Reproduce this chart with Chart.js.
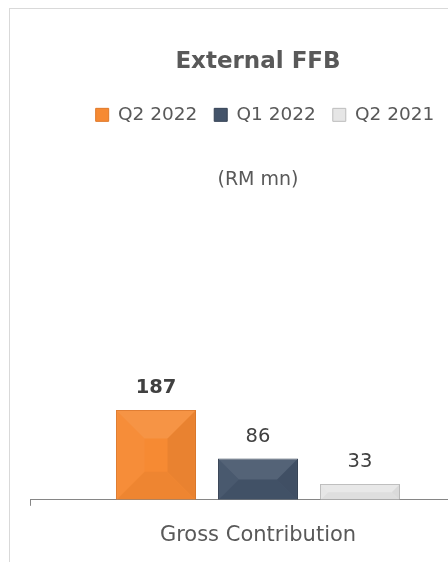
<!DOCTYPE html>
<html>
<head>
<meta charset="utf-8">
<script src="https://cdn.jsdelivr.net/npm/chart.js@4/dist/chart.umd.min.js"></script>
<style>
  html, body { margin: 0; padding: 0; background: #fff; overflow: hidden; }
  #wrap { position: relative; width: 448px; height: 562px; overflow: hidden; }
  #frame { position: absolute; left: 9px; top: 8px; width: 600px; height: 600px; border: 1px solid #d9d9d9; box-sizing: border-box; }
  #cv { position: absolute; left: 0; top: 0; }
</style>
</head>
<body>
<div id="wrap">
  <div id="frame"></div>
  <div style="position:absolute;left:0;top:0;width:500px;height:579px;">
    <canvas id="cv" width="500" height="579"></canvas>
  </div>
</div>
<script>
const categories = ['Gross Contribution'];
const seriesNames = ['Q2 2022', 'Q1 2022', 'Q2 2021'];
const q2_2022 = [187];
const q1_2022 = [86];
const q2_2021 = [33];
const titleText = 'External FFB';
const subtitleText = '(RM mn)';

const fills = ['#F68A33', '#44546A', '#E6E6E6'];
const borders = ['#E0792A', '#364355', '#BDBDBD'];

const valueLabels = {
  id: 'valueLabels',
  afterDatasetsDraw(chart) {
    const ctx = chart.ctx;
    ctx.save();
    chart.data.datasets.forEach((ds, i) => {
      const meta = chart.getDatasetMeta(i);
      meta.data.forEach((bar, j) => {
        const v = ds.data[j];
        ctx.font = (i === 0 ? 'bold ' : '') + '19.5px "DejaVu Sans"';
        ctx.fillStyle = '#404040';
        ctx.textAlign = 'center';
        ctx.textBaseline = 'middle';
        ctx.fillText(String(v), bar.x, bar.y - 22);
      });
    });
    ctx.restore();
  }
};

const bevel = {
  id: 'bevel',
  afterDatasetsDraw(chart) {
    const ctx = chart.ctx;
    ctx.save();
    chart.data.datasets.forEach((ds, i) => {
      const meta = chart.getDatasetMeta(i);
      meta.data.forEach((bar) => {
        const l = bar.x - bar.width / 2 + 0.5, r = bar.x + bar.width / 2 - 0.5;
        const t = bar.y + 0.5, b = bar.base;
        const d = Math.min(28, (b - t) / 2, bar.width / 2);
        const quad = (pts, col) => {
          ctx.fillStyle = col;
          ctx.beginPath(); ctx.moveTo(pts[0][0], pts[0][1]);
          for (let k = 1; k < pts.length; k++) ctx.lineTo(pts[k][0], pts[k][1]);
          ctx.closePath(); ctx.fill();
        };
        quad([[l, t], [r, t], [r - d, t + d], [l + d, t + d]], 'rgba(255,255,255,0.09)');
        quad([[l, t], [l + d, t + d], [l + d, b - d], [l, b]], 'rgba(255,255,255,0.03)');
        quad([[r, t], [r - d, t + d], [r - d, b - d], [r, b]], 'rgba(0,0,0,0.05)');
        quad([[l, b], [r, b], [r - d, b - d], [l + d, b - d]], 'rgba(0,0,0,0.03)');
      });
    });
    ctx.restore();
  }
};

const legendNudge = {
  id: 'legendNudge',
  afterLayout(chart) {
    if (chart.legend) { chart.legend.left += 7; chart.legend.right += 7; }
  }
};

const seriesData = [q2_2022, q1_2022, q2_2021];

new Chart(document.getElementById('cv'), {
  type: 'bar',
  data: {
    labels: categories,
    datasets: seriesNames.map((name, i) => ({
      label: name,
      data: seriesData[i],
      backgroundColor: fills[i],
      borderColor: borders[i],
      borderWidth: 1,
      barPercentage: 0.784,
      categoryPercentage: 0.671
    }))
  },
  options: {
    responsive: false,
    animation: false,
    devicePixelRatio: 1,
    layout: { padding: { left: 30, right: 14, top: 32, bottom: 14 } },
    plugins: {
      title: {
        display: true, text: titleText, color: '#595959',
        font: { family: '"DejaVu Sans"', size: 23, weight: 'bold' },
        padding: { top: 16, bottom: 13 }
      },
      legend: {
        display: true, position: 'top',
        labels: {
          color: '#595959', boxWidth: 13, boxHeight: 13, padding: 17,
          font: { family: '"DejaVu Sans"', size: 18.5 }
        }
      },
      subtitle: {
        display: true, text: subtitleText, color: '#595959', position: 'top', weight: 500,
        font: { family: '"DejaVu Sans"', size: 19 },
        padding: { top: 35, bottom: 24.6 }
      },
      tooltip: { enabled: false }
    },
    scales: {
      x: {
        grid: { display: true, drawOnChartArea: false, drawTicks: true, tickLength: 6, color: '#868686', offset: true },
        border: { display: true, color: '#868686', width: 1 },
        ticks: { color: '#595959', padding: 17, font: { family: '"DejaVu Sans"', size: 21 } }
      },
      y: { display: false, min: 0, max: 590 }
    }
  },
  plugins: [bevel, valueLabels, legendNudge]
});
</script>
</body>
</html>
